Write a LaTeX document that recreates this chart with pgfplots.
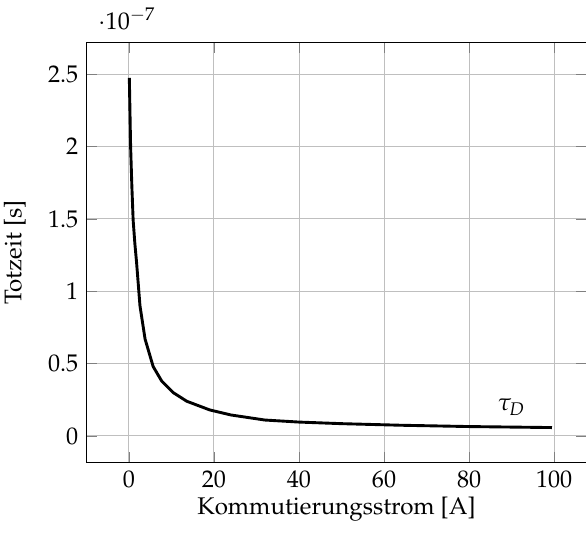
\documentclass[border=0pt]{standalone}
\usepackage[T1]{fontenc}
\usepackage{mathpazo}
\usepackage{pgfplots}
\pgfplotsset{compat=1.18}
\begin{document}
\begin{tikzpicture}
\begin{axis}[
  scale only axis,
  width=207pt, height=174pt,
  xmin=-9.9, xmax=107.5,
  enlarge y limits=0.1,
  grid=major,
  xlabel={Kommutierungsstrom [A]},
  ylabel={Totzeit [s]},
  xlabel shift=-3.2pt,
  ylabel shift=2.4pt,
  every y tick scale label/.append style={xshift=1.5pt},
  xtick={0,20,40,60,80,100},
  ytick={0,0.5e-7,1e-7,1.5e-7,2e-7,2.5e-7},
]
\addplot[black, line width=1.2pt] table {
x y
0.1 2.475e-7
0.4 2.0e-7
0.7 1.72e-7
1.0 1.49e-7
1.4 1.33e-7
1.8 1.20e-7
2.6 0.90e-7
3.8 0.67e-7
5.7 0.48e-7
7.7 0.38e-7
10.4 0.30e-7
13.6 0.24e-7
19 0.18e-7
24 0.145e-7
32 0.11e-7
40 0.096e-7
50 0.085e-7
64 0.074e-7
80 0.065e-7
99.5 0.058e-7
};
\node at (axis cs:90,0.2e-7) {$\tau_D$};
\end{axis}
\pgfresetboundingbox
\path ([shift={(-36pt,-30.7pt)}]current axis.south west) rectangle ([shift={(0pt,17.8pt)}]current axis.north east);
\end{tikzpicture}
\end{document}
